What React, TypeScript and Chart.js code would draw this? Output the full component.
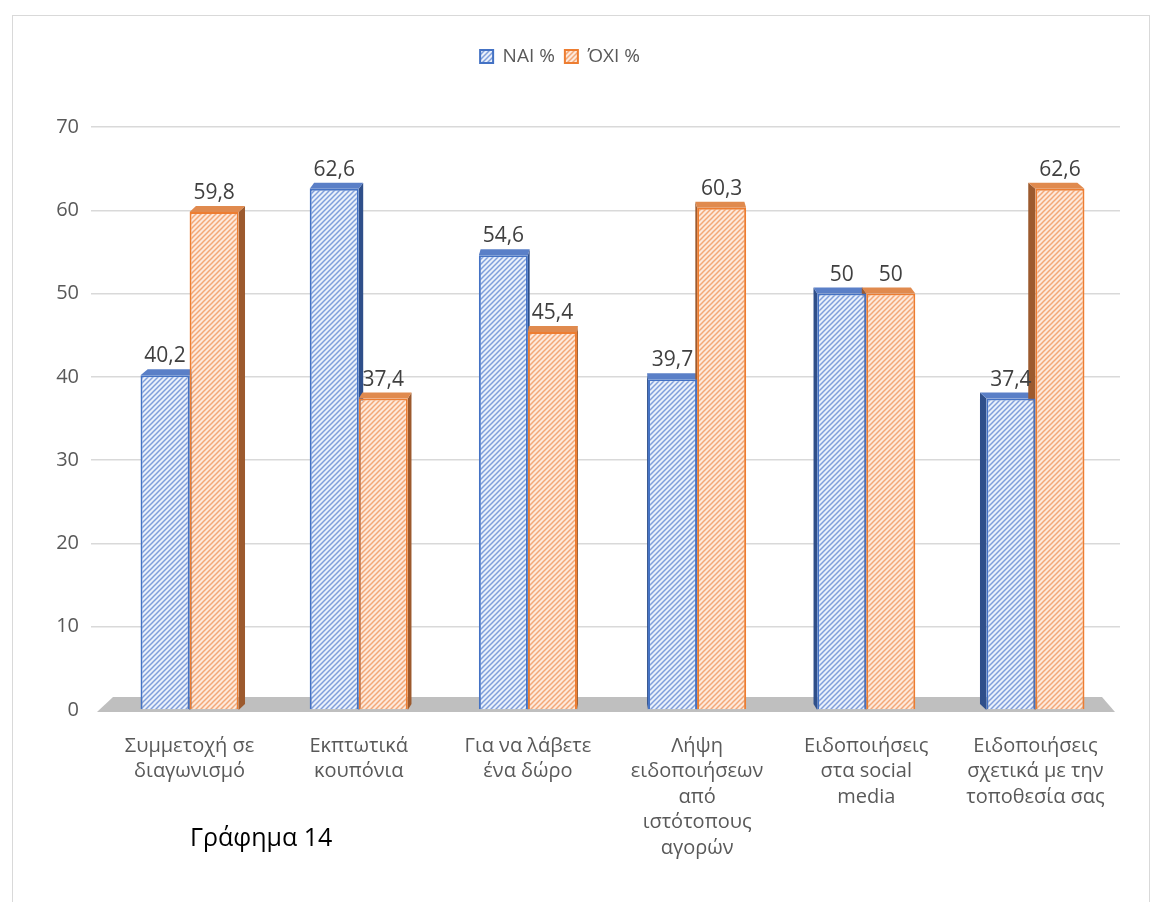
import React, { useEffect, useRef } from 'react';
import { Chart, registerables } from 'chart.js';

Chart.register(...registerables);

const categories: string[][] = [
  ['Συμμετοχή σε', 'διαγωνισμό'],
  ['Εκπτωτικά', 'κουπόνια'],
  ['Για να λάβετε', 'ένα δώρο'],
  ['Λήψη', 'ειδοποιήσεων', 'από', 'ιστότοπους', 'αγορών'],
  ['Ειδοποιήσεις', 'στα social', 'media'],
  ['Ειδοποιήσεις', 'σχετικά με την', 'τοποθεσία σας'],
];
const yesValues = [40.2, 62.6, 54.6, 39.7, 50, 37.4];
const noValues = [59.8, 37.4, 45.4, 60.3, 50, 62.6];
const seriesNames = ['ΝΑΙ %', 'ΌΧΙ %'];
const yMin = 0;
const yMax = 70;
const yStep = 10;
const captionText = 'Γράφημα 14';

const FONT = '"Open Sans", "Noto Sans", sans-serif';
const borderColors = ['#4472c4', '#ed7d31'];
const topColors = ['#5a7fc7', '#e08a4e'];
const sideColors = ['#2f4f8a', '#9c5a2e'];

function makePattern(bg: string, line: string): CanvasPattern | string {
  const s = 5;
  const c = document.createElement('canvas');
  c.width = s;
  c.height = s;
  const g = c.getContext('2d');
  if (!g) return bg;
  g.fillStyle = bg;
  g.fillRect(0, 0, s, s);
  g.strokeStyle = line;
  g.lineWidth = 1.5;
  g.beginPath();
  g.moveTo(0, s);
  g.lineTo(s, 0);
  g.moveTo(-s / 2, s / 2);
  g.lineTo(s / 2, -s / 2);
  g.moveTo(s / 2, s * 1.5);
  g.lineTo(s * 1.5, s / 2);
  g.stroke();
  return g.createPattern(c, 'repeat') || bg;
}

const fmt = (v: number) => String(v).replace('.', ',');

const depthPlugin = {
  id: 'depth3d',
  beforeLayout(chart: any) {
    const legend = chart.legend;
    if (legend && !legend.__patched) {
      const orig = legend.fit;
      legend.fit = function () {
        orig.call(this);
        this.height = 90;
      };
      legend.__patched = true;
    }
  },
  beforeDatasetsDraw(chart: any) {
    const ctx = chart.ctx;
    const area = chart.chartArea;
    const base = chart.scales.y.getPixelForValue(0);
    ctx.save();
    ctx.fillStyle = '#bfbfbf';
    ctx.beginPath();
    ctx.moveTo(area.left - 8, base + 2);
    ctx.lineTo(area.left + 8, base - 13);
    ctx.lineTo(area.right - 18, base - 13);
    ctx.lineTo(area.right - 5, base + 2);
    ctx.closePath();
    ctx.fill();
    const mid = (area.left + area.right) / 2;
    chart.data.datasets.forEach((_ds: any, di: number) => {
      const meta = chart.getDatasetMeta(di);
      meta.data.forEach((bar: any) => {
        const { x, y, width } = bar.getProps(['x', 'y', 'width'], true);
        const x1 = x - width / 2;
        const x2 = x + width / 2;
        const dx = -(x - mid) * 0.016;
        const dy = 6;
        const sx = dx >= 0 ? x2 : x1;
        ctx.fillStyle = sideColors[di];
        ctx.beginPath();
        ctx.moveTo(sx, y);
        ctx.lineTo(sx + dx, y - dy);
        ctx.lineTo(sx + dx, base - dy);
        ctx.lineTo(sx, base);
        ctx.closePath();
        ctx.fill();
        ctx.fillStyle = topColors[di];
        ctx.beginPath();
        ctx.moveTo(x1, y);
        ctx.lineTo(x1 + dx, y - dy);
        ctx.lineTo(x2 + dx, y - dy);
        ctx.lineTo(x2, y);
        ctx.closePath();
        ctx.fill();
      });
    });
    ctx.restore();
  },
  afterDatasetsDraw(chart: any) {
    const ctx = chart.ctx;
    ctx.save();
    ctx.font = `21px ${FONT}`;
    ctx.fillStyle = '#404040';
    ctx.textAlign = 'center';
    ctx.textBaseline = 'alphabetic';
    chart.data.datasets.forEach((ds: any, di: number) => {
      const meta = chart.getDatasetMeta(di);
      meta.data.forEach((bar: any, i: number) => {
        const { x, y } = bar.getProps(['x', 'y'], true);
        ctx.fillText(fmt(ds.data[i]), x, y - 13);
      });
    });
    ctx.restore();
  },
};

export default function App() {
  const ref = useRef<HTMLCanvasElement | null>(null);
  useEffect(() => {
    if (!ref.current) return;
    const bluePattern = makePattern('#eaf0fa', '#7f9fdb');
    const orangePattern = makePattern('#fde9dc', '#f3a877');
    const chart = new Chart(ref.current, {
      type: 'bar',
      data: {
        labels: categories,
        datasets: [
          {
            label: seriesNames[0],
            data: yesValues,
            backgroundColor: bluePattern as any,
            borderColor: borderColors[0],
            borderWidth: 2,
            categoryPercentage: 0.58,
            barPercentage: 1,
          },
          {
            label: seriesNames[1],
            data: noValues,
            backgroundColor: orangePattern as any,
            borderColor: borderColors[1],
            borderWidth: 2,
            categoryPercentage: 0.58,
            barPercentage: 1,
          },
        ],
      },
      options: {
        responsive: false,
        animation: false,
        layout: { padding: { top: 37, left: 0, right: 43, bottom: 0 } },
        plugins: {
          legend: {
            position: 'top',
            labels: {
              boxWidth: 13,
              boxHeight: 13,
              padding: 10,
              color: '#595959',
              font: { family: FONT, size: 19 },
            },
          },
          tooltip: { enabled: false },
          title: { display: false },
        },
        scales: {
          x: {
            grid: { display: false, drawTicks: false },
            border: { display: false },
            ticks: {
              color: '#595959',
              font: { family: FONT, size: 20, lineHeight: 1.28 },
              padding: 23,
              maxRotation: 0,
              autoSkip: false,
            },
            afterFit: (axis: any) => {
              axis.height = 192;
            },
          },
          y: {
            min: yMin,
            max: yMax,
            border: { display: false },
            grid: {
              color: (c: any) => (c.tick && c.tick.value === 0 ? 'rgba(0,0,0,0)' : '#d9d9d9'),
              lineWidth: 1.5,
              tickLength: 14,
            },
            ticks: {
              stepSize: yStep,
              color: '#595959',
              padding: 12,
              font: { family: FONT, size: 20 },
            },
            afterFit: (axis: any) => {
              axis.width = 105;
            },
          },
        },
      },
      plugins: [depthPlugin],
    });
    return () => chart.destroy();
  }, []);

  return (
    <div style={{ position: 'absolute', left: 0, top: 0, width: 1163, height: 902, background: '#fff', overflow: 'hidden' }}>
      <div
        style={{
          position: 'absolute',
          left: 12,
          top: 15,
          width: 1138,
          height: 900,
          border: '1px solid #d9d9d9',
          boxSizing: 'border-box',
        }}
      />
      <canvas ref={ref} width={1163} height={902} style={{ position: 'absolute', left: 0, top: 0 }} />
      <div
        style={{
          position: 'absolute',
          left: 190,
          top: 818,
          fontFamily: FONT,
          fontSize: 25,
          lineHeight: '36px',
          color: '#000',
          whiteSpace: 'nowrap',
        }}
      >
        {captionText}
      </div>
    </div>
  );
}
